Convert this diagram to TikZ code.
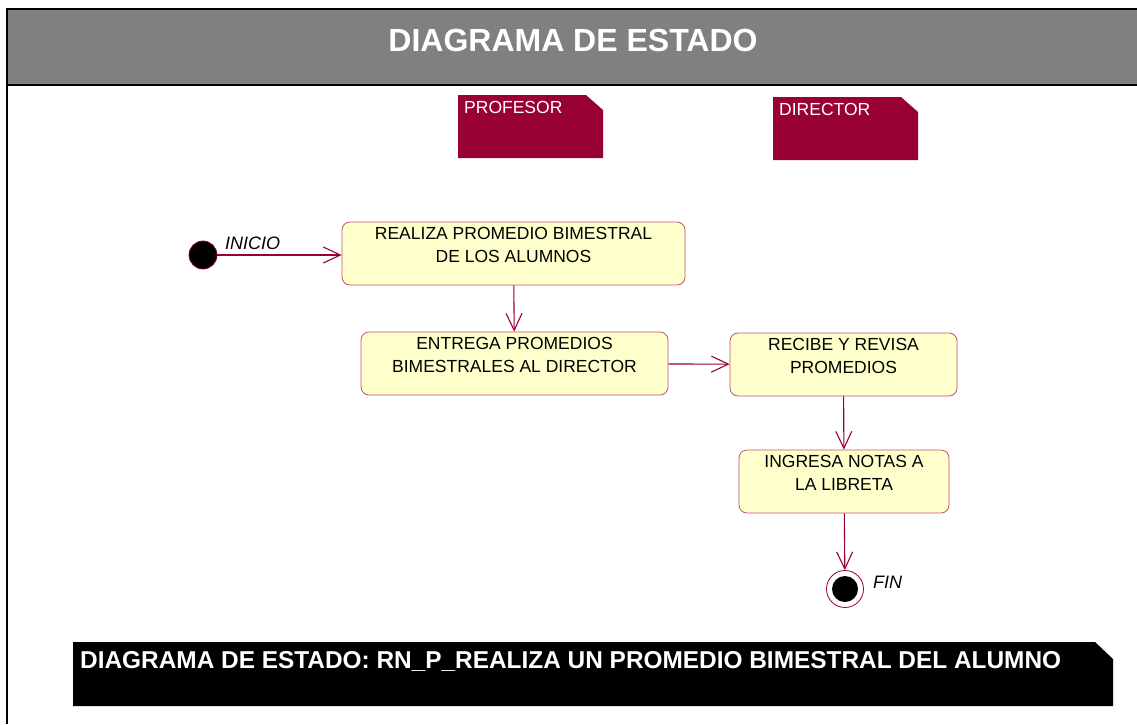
\documentclass[tikz,border=0pt]{standalone}
\usepackage{fontspec}
\setmainfont{Liberation Sans}
\usetikzlibrary{arrows.meta}
\definecolor{UmlCrimson}{HTML}{990033}
\definecolor{UmlEdge}{HTML}{C4506E}
\definecolor{UmlFill}{HTML}{FFFFCC}
\definecolor{UmlGray}{HTML}{808080}
\newcommand{\liftlines}[1]{\raisebox{7pt}[\height][\depth]{\begin{tabular}{@{}c@{}}#1\end{tabular}}}

\begin{document}
\begin{tikzpicture}[
    x=1pt, y=-1pt,
    statebox/.style={rectangle, draw=UmlEdge, fill=UmlFill, rounded corners=8pt, minimum height=63pt, inner sep=0pt, line width=0.8pt, font=\fontsize{17.5}{23}\selectfont},
    lanetext/.style={anchor=west, text=white, inner sep=0pt, font=\fontsize{17.5}{20}\selectfont},
    pseudo/.style={circle, fill=black, draw=UmlCrimson, line width=0.8pt, minimum size=28pt, inner sep=0pt},
    finalstate/.style={circle, draw=UmlCrimson, fill=white, line width=0.8pt, minimum size=37pt, inner sep=0pt, path picture={\fill[black] (path picture bounding box.center) circle (13pt);}},
    pseudolbl/.style={anchor=west, inner sep=0pt, font=\fontsize{18}{20}\selectfont\itshape},
    arrow/.style={-{Straight Barb[length=17pt, width=16pt]}, line width=1.1pt, color=UmlCrimson}
]
\useasboundingbox (0,0) rectangle (1137,724);

% Frame and title band
\fill[UmlGray] (7,9) rectangle (1137,85);
\draw[line width=2.8pt] (1137,9) -- (7,9) -- (7,724);
\draw[line width=2.8pt] (7,85) -- (1137,85);
\node[text=white, font=\fontsize{32}{34}\selectfont\bfseries] (title) at (573,40) {DIAGRAMA DE ESTADO};

% Swimlane headers
\fill[UmlCrimson] (458,95) -- (586,95) -- (603,110) -- (603,158) -- (458,158) -- cycle;
\node[lanetext] (profesor) at (464,107) {PROFESOR};
\fill[UmlCrimson] (773,97) -- (901,97) -- (918,112) -- (918,160) -- (773,160) -- cycle;
\node[lanetext] (director) at (779,109) {DIRECTOR};

% States
\node[pseudo] (ini) at (203,255) {};
\node[pseudolbl] (inilbl) at (225,243) {INICIO};
\node[statebox, minimum width=343pt] (realiza) at (513.5,253.5) {\liftlines{REALIZA PROMEDIO BIMESTRAL\\DE LOS ALUMNOS}};
\node[statebox, minimum width=307pt] (entrega) at (514.5,363.5) {\liftlines{ENTREGA PROMEDIOS\\BIMESTRALES AL DIRECTOR}};
\node[statebox, minimum width=227pt] (recibe) at (843.5,364.5) {\liftlines{RECIBE Y REVISA\\PROMEDIOS}};
\node[statebox, minimum width=210pt] (ingresa) at (844,481.5) {\liftlines{INGRESA NOTAS A\\LA LIBRETA}};
\node[finalstate] (fin) at (845,589) {};
\node[pseudolbl] (finlbl) at (873,582) {FIN};

% Transitions
\draw[arrow] (ini.east) -- (ini.east -| realiza.west);
\draw[arrow] (realiza) -- (entrega);
\draw[arrow] (entrega) -- (recibe);
\draw[arrow] (recibe) -- (ingresa);
\draw[arrow] (ingresa) -- (fin);

% Caption bar
\fill[black] (73,642) -- (1095,642) -- (1113,659) -- (1113,706) -- (73,706) -- cycle;
\node[anchor=west, text=white, inner sep=0pt, font=\fontsize{24.4}{26}\selectfont\bfseries] (caption) at (80,661) {DIAGRAMA DE ESTADO: RN\_P\_REALIZA UN PROMEDIO BIMESTRAL DEL ALUMNO};

\end{tikzpicture}
\end{document}
